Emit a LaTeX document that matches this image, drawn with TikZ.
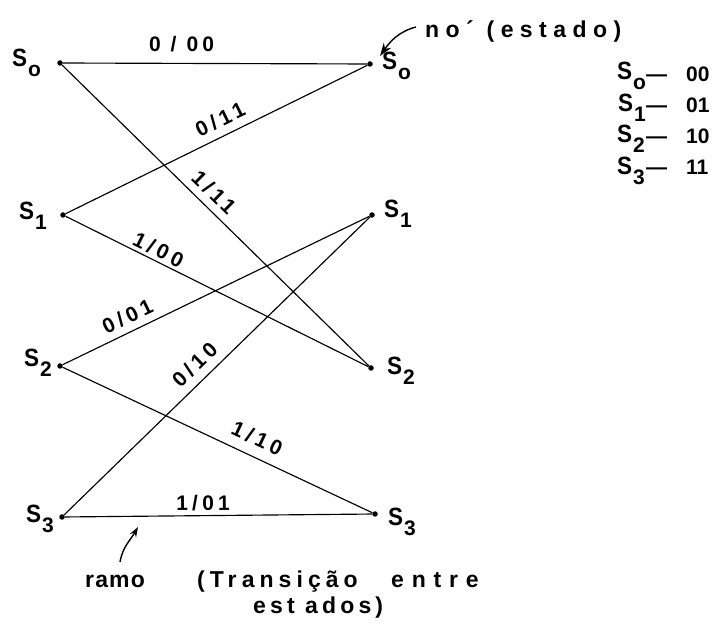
\documentclass[tikz,border=0pt]{standalone}
\usepackage{fontspec}
\setmainfont{Liberation Sans}
\usetikzlibrary{arrows.meta}
\newcommand{\stt}[1]{\scalebox{0.9}[1]{S}\kern1pt\raisebox{-10pt}{\fontsize{21}{21}\selectfont #1}}
\newcommand{\sto}{\scalebox{0.9}[1]{S}\kern1pt\raisebox{-10pt}{\fontsize{21}{21}\selectfont o}}
\tikzset{
  dotnode/.style={circle,fill=black,inner sep=0pt,minimum size=5.5pt},
  slab/.style={font=\fontsize{25}{25}\selectfont\bfseries,inner sep=0pt,anchor=base west},
  elab/.style={font=\fontsize{21}{21}\selectfont\bfseries\addfontfeature{LetterSpace=20},inner sep=1pt,sloped},
  note/.style={font=\fontsize{23}{23}\selectfont\bfseries,inner sep=0pt,anchor=base west},
  keytxt/.style={font=\fontsize{21}{21}\selectfont\bfseries,inner sep=0pt,anchor=base west},
  branch/.style={line width=1.15pt},
  pointer/.style={line width=1.4pt}
}
\begin{document}
\begin{tikzpicture}[x=1pt,y=-1pt]
\useasboundingbox (0,0) rectangle (724,628);
% nodes
\node[dotnode] (L0) at (60,63) {};
\node[dotnode] (L1) at (63,215) {};
\node[dotnode] (L2) at (60,366) {};
\node[dotnode] (L3) at (62,517) {};
\node[dotnode] (R0) at (370,64) {};
\node[dotnode] (R1) at (372,215) {};
\node[dotnode] (R2) at (371,368) {};
\node[dotnode] (R3) at (375,514) {};
% state labels
\node[slab] (tL0) at (12,67) {\sto};
\node[slab] (tL1) at (19,220) {\stt{1}};
\node[slab] (tL2) at (24,367) {\stt{2}};
\node[slab] (tL3) at (26,523) {\stt{3}};
\node[slab] (tR0) at (382,70) {\sto};
\node[slab] (tR1) at (384,218) {\stt{1}};
\node[slab] (tR2) at (387,375) {\stt{2}};
\node[slab] (tR3) at (388,526) {\stt{3}};
% branches
\draw[branch] (L0) -- node[elab,pos=0.39,above=10pt] {0 / 00} (R0);
\draw[branch] (L0) -- node[elab,pos=0.46,above=6pt] {1/11} (R2);
\draw[branch] (L1) -- node[elab,pos=0.536,above=7pt] {0/11} (R0);
\draw[branch] (L1) -- node[elab,pos=0.29,above=2pt] {1/00} (R2);
\draw[branch] (L2) -- node[elab,pos=0.233,above=6pt] {0/01} (R1);
\draw[branch] (L2) -- node[elab,pos=0.603,above=9pt] {1/10} (R3);
\draw[branch] (L3) -- node[elab,pos=0.464,above=7pt] {0/10} (R1);
\draw[branch] (L3) -- node[elab,pos=0.45,above=3pt] {1/01} (R3);
% annotation: node (state)
\node[note,font=\fontsize{23}{23}\selectfont\bfseries\addfontfeature{LetterSpace=28}] (no) at (425,38) {no´ (estado)};
\coordinate (nostart) at (416,27);
\coordinate (notip) at (380,56);
\draw[pointer,-{Stealth[length=13pt,width=9pt]}] (nostart) to[out=195,in=55] (notip);
% annotation: branch (transition)
\node[note,font=\fontsize{23}{23}\selectfont\bfseries\addfontfeature{LetterSpace=5}] (ramo) at (85,588) {ramo};
\node[note,font=\fontsize{23}{23}\selectfont\bfseries\addfontfeature{LetterSpace=22}] (trans) at (197,588) {(Transição};
\node[note,font=\fontsize{23}{23}\selectfont\bfseries\addfontfeature{LetterSpace=34}] (entre) at (391,588) {entre};
\node[note,font=\fontsize{23}{23}\selectfont\bfseries\addfontfeature{LetterSpace=18}] (estados) at (253,613) {est ados)};
\coordinate (ramostart) at (120,562);
\coordinate (ramotip) at (138,527);
\draw[pointer,-{Stealth[length=10pt,width=7pt]}] (ramostart) to[out=80,in=240] (ramotip);
% key
\node[slab] (k0) at (617,80) {\sto};
\node[slab] (k1) at (618,112) {\stt{1}};
\node[slab] (k2) at (617,143) {\stt{2}};
\node[slab] (k3) at (617,175) {\stt{3}};
\node[keytxt] (v0) at (646,82) {—\hspace{19pt}00};
\node[keytxt] (v1) at (646,113) {—\hspace{19pt}01};
\node[keytxt] (v2) at (646,144) {—\hspace{19pt}10};
\node[keytxt] (v3) at (646,175) {—\hspace{19pt}11};
\end{tikzpicture}
\end{document}
